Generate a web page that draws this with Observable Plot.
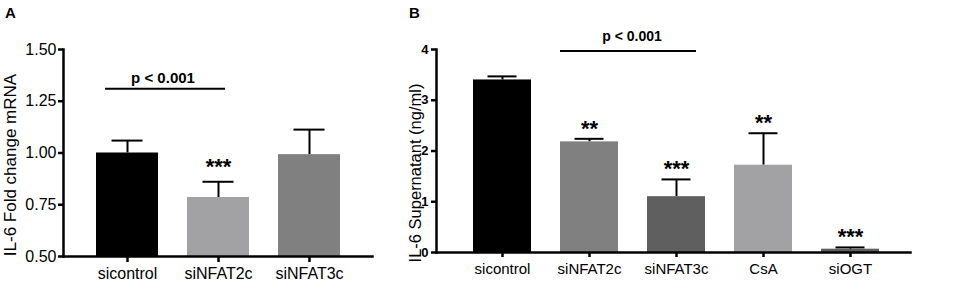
<!DOCTYPE html>
<html>
<head>
<meta charset="utf-8">
<script src="https://cdn.jsdelivr.net/npm/d3@7"></script>
<script src="https://cdn.jsdelivr.net/npm/@observablehq/plot@0.6"></script>
<style>
  html, body { margin: 0; padding: 0; background: #fff; }
  #fig { position: relative; width: 957px; height: 281px; overflow: hidden; font-family: "Liberation Sans", Arial, sans-serif; }
  .panel { position: absolute; top: 0; }
  .letter { position: absolute; font-weight: bold; font-size: 15px; line-height: 15px; color: #000; }
  svg { overflow: visible; }
</style>
</head>
<body>
<div id="fig">
  <div class="panel" id="pa" style="left:0px;"></div>
  <div class="panel" id="pb" style="left:390px;"></div>
  <div class="letter" style="left:5px; top:5px;">A</div>
  <div class="letter" style="left:409px; top:5px;">B</div>
</div>
<script>
// ---------- Panel A data ----------
const catA = ["sicontrol", "siNFAT2c", "siNFAT3c"];
const meanA = [1.00, 0.785, 0.992];
const errA = [1.06, 0.861, 1.113];
const starsA = ["", "***", ""];
const yTicksA = [0.50, 0.75, 1.00, 1.25, 1.50];
const yLabelA = "IL-6 Fold change mRNA";
const sigFromA = "sicontrol", sigToA = "siNFAT2c", sigYA = 1.31, sigTextA = "p < 0.001";

// ---------- Panel B data ----------
const catB = ["sicontrol", "siNFAT2c", "siNFAT3c", "CsA", "siOGT"];
const meanB = [3.40, 2.18, 1.10, 1.72, 0.065];
const errB = [3.47, 2.24, 1.44, 2.35, 0.10];
const starsB = ["", "**", "***", "**", "***"];
const yTicksB = [0, 1, 2, 3, 4];
const yLabelB = "IL-6 Supernatant (ng/ml)";
const sigFromB = "siNFAT2c", sigToB = "siNFAT3c", sigYB = 3.97, sigTextB = "p < 0.001";

// ---------- styles ----------
const FONT = "'Liberation Sans', Arial, sans-serif";
const greysA = ["#000000", "#a2a2a5", "#808080"];
const greysB = ["#000000", "#808080", "#5f5f5f", "#a2a2a5", "#5f5f5f"];

const dataA = catA.map((c, i) => ({cat: c, mean: meanA[i], err: errA[i], stars: starsA[i]}));
const dataB = catB.map((c, i) => ({cat: c, mean: meanB[i], err: errB[i], stars: starsB[i]}));
const sigA = [{from: sigFromA, to: sigToA, y: sigYA, label: sigTextA}];
const sigB = [{from: sigFromB, to: sigToB, y: sigYB, label: sigTextB}];

const plotA = Plot.plot({
  width: 390, height: 281,
  marginLeft: 63, marginRight: 18, marginTop: 49, marginBottom: 25,
  x: {domain: catA, paddingInner: 0.322, paddingOuter: 0.35, label: null},
  y: {domain: [yTicksA[0], yTicksA[yTicksA.length - 1]], label: null},
  color: {domain: catA, range: greysA},
  style: {fontFamily: FONT, fontSize: "16px", color: "#000", background: "transparent", overflow: "visible"},
  marks: [
    Plot.ruleX(dataA, {x: "cat", y1: "mean", y2: "err", stroke: "#000", strokeWidth: 2}),
    Plot.tickY(dataA, {x: "cat", y: "err", stroke: "#000", strokeWidth: 2, insetLeft: 15.5, insetRight: 15.5}),
    Plot.barY(dataA, {x: "cat", y1: yTicksA[0], y2: "mean", fill: "cat"}),
    Plot.text(dataA, {x: "cat", y: "err", text: "stars", dy: -15, fontSize: 22, fontWeight: "bold", letterSpacing: 1.5, fill: "#000"}),
    Plot.ruleY(sigA, {x1: "from", x2: "to", y: "y", stroke: "#000", strokeWidth: 2, insetLeft: 9, insetRight: 24}),
    Plot.text(sigA, {x: "from", y: "y", text: "label", dx: 35.5, dy: -11, fontSize: 15, fontWeight: "bold", fill: "#000"}),
    Plot.axisY({ticks: yTicksA, tickFormat: d3.format(".2f"), tickSize: 5, tickPadding: 2, strokeWidth: 2.5, fontSize: 16, label: null}),
    Plot.axisX({tickSize: 6, tickPadding: 5, strokeWidth: 2.5, fontSize: 16, label: null}),
    Plot.frame({anchor: "left", stroke: "#000", strokeWidth: 2.5}),
    Plot.frame({anchor: "bottom", stroke: "#000", strokeWidth: 2.5}),
    Plot.text([yLabelA], {frameAnchor: "left", textAnchor: "middle", rotate: -90, dx: -53, dy: 12, fontSize: 17, fill: "#000"})
  ]
});
document.getElementById("pa").appendChild(plotA);

const plotB = Plot.plot({
  width: 567, height: 281,
  marginLeft: 46, marginRight: 47, marginTop: 49, marginBottom: 29,
  x: {domain: catB, paddingInner: 0.339, paddingOuter: 0.37, align: 0.54, label: null},
  y: {domain: [yTicksB[0], yTicksB[yTicksB.length - 1]], label: null},
  color: {domain: catB, range: greysB},
  style: {fontFamily: FONT, fontSize: "15px", color: "#000", background: "transparent", overflow: "visible"},
  marks: [
    Plot.ruleX(dataB, {x: "cat", y1: "mean", y2: "err", stroke: "#000", strokeWidth: 2}),
    Plot.tickY(dataB, {x: "cat", y: "err", stroke: "#000", strokeWidth: 2, insetLeft: 14.5, insetRight: 14.5}),
    Plot.barY(dataB, {x: "cat", y1: yTicksB[0], y2: "mean", fill: "cat"}),
    Plot.text(dataB, {x: "cat", y: "err", text: "stars", dy: -10, fontSize: 22, fontWeight: "bold", letterSpacing: 1.5, fill: "#000"}),
    Plot.ruleY(sigB, {x1: "from", x2: "to", y: "y", stroke: "#000", strokeWidth: 2, insetLeft: 0, insetRight: 9}),
    Plot.text(sigB, {x: "from", y: "y", text: "label", dx: 42.5, dy: -14.5, fontSize: 14, fontWeight: "bold", fill: "#000"}),
    Plot.axisY({ticks: yTicksB, tickFormat: d3.format("d"), tickSize: 5, tickPadding: 3, strokeWidth: 2.5, fontSize: 13, fontWeight: "bold", label: null}),
    Plot.axisX({tickSize: 5, tickPadding: 6, strokeWidth: 2.5, fontSize: 15, label: null}),
    Plot.frame({anchor: "left", stroke: "#000", strokeWidth: 2.5}),
    Plot.frame({anchor: "bottom", stroke: "#000", strokeWidth: 2.5}),
    Plot.text([yLabelB], {frameAnchor: "left", textAnchor: "middle", rotate: -90, dx: -21, dy: 22, fontSize: 16.5, fill: "#000"})
  ]
});
document.getElementById("pb").appendChild(plotB);
</script>
</body>
</html>
